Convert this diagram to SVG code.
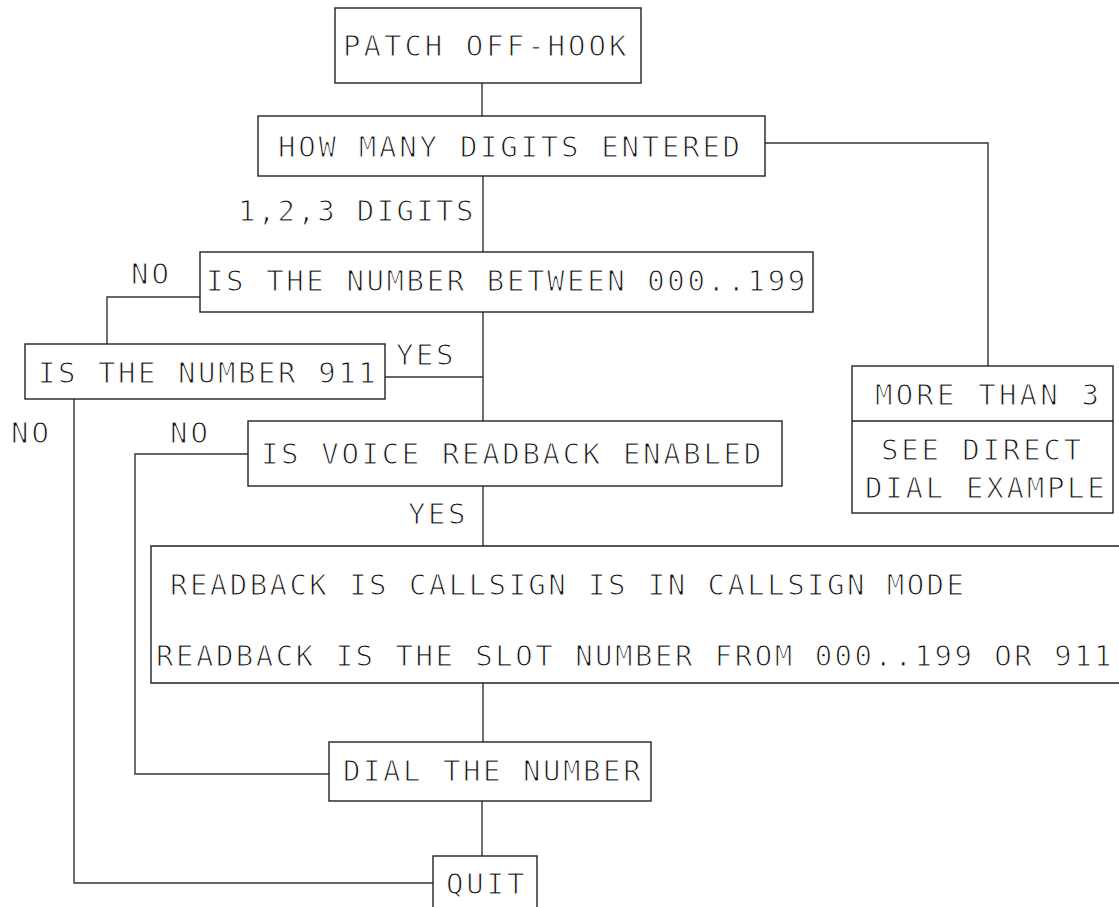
<svg xmlns="http://www.w3.org/2000/svg" width="1119" height="907" viewBox="0 0 1119 907">
<style>
.b{fill:none;stroke:#222;stroke-width:1.4}
.c{fill:none;stroke:#333;stroke-width:1.4}
text{font-family:"DejaVu Sans Mono","Liberation Mono",monospace;font-size:29px;fill:#111;stroke:#fff;stroke-width:1.1px;paint-order:fill stroke}
</style>
<rect width="1119" height="907" fill="#fff"/>
<g id="connectors">
<path class="c" d="M482,83V116"/>
<path class="c" d="M483,176V252"/>
<path class="c" d="M765,143H988V366"/>
<path class="c" d="M200,297H107V344"/>
<path class="c" d="M483,312V421"/>
<path class="c" d="M385,377H483"/>
<path class="c" d="M483,486V546"/>
<path class="c" d="M248,454H135V774H329"/>
<path class="c" d="M483,683V742"/>
<path class="c" d="M482,801V856"/>
<path class="c" d="M74,399V883H433"/>
</g>
<g id="labels">
<text x="238" y="221" letter-spacing="2.35">1,2,3 DIGITS</text>
<text x="131" y="284" letter-spacing="3">NO</text>
<text x="396" y="365" letter-spacing="2.6">YES</text>
<text x="170" y="443" letter-spacing="3">NO</text>
<text x="11" y="443" letter-spacing="3">NO</text>
<text x="408" y="524" letter-spacing="2.6">YES</text>
</g>
<g id="patch">
<rect class="b" x="335" y="8" width="306" height="75"/>
<text x="343" y="56" letter-spacing="3">PATCH OFF-HOOK</text>
</g>
<g id="how-many">
<rect class="b" x="258" y="116" width="507" height="60"/>
<text x="278" y="157" letter-spacing="2.75">HOW MANY DIGITS ENTERED</text>
</g>
<g id="between">
<rect class="b" x="200" y="252" width="613" height="60"/>
<text x="206" y="291" letter-spacing="2.6">IS THE NUMBER BETWEEN 000..199</text>
</g>
<g id="is-911">
<rect class="b" x="25" y="344" width="360" height="55"/>
<text x="38" y="383" letter-spacing="2.55">IS THE NUMBER 911</text>
</g>
<g id="voice">
<rect class="b" x="248" y="421" width="534" height="65"/>
<text x="261" y="464" letter-spacing="2.65">IS VOICE READBACK ENABLED</text>
</g>
<g id="more-than-3">
<rect class="b" x="852" y="366" width="261" height="147"/>
<path class="b" d="M852,421H1113"/>
<text x="875" y="405" letter-spacing="3.2">MORE THAN 3</text>
<text x="881" y="460" letter-spacing="2.85">SEE DIRECT</text>
<text x="865" y="498" letter-spacing="2.75">DIAL EXAMPLE</text>
</g>
<g id="readback">
<path class="b" d="M1125,546H151V683H1125"/>
<text x="170" y="595" letter-spacing="2.45">READBACK IS CALLSIGN IS IN CALLSIGN MODE</text>
<text x="156" y="666" letter-spacing="2.5">READBACK IS THE SLOT NUMBER FROM 000..199 OR 911</text>
</g>
<g id="dial">
<rect class="b" x="329" y="742" width="322" height="59"/>
<text x="343" y="781" letter-spacing="2.55">DIAL THE NUMBER</text>
</g>
<g id="quit">
<rect class="b" x="433" y="856" width="104" height="70"/>
<text x="446" y="894" letter-spacing="2.85">QUIT</text>
</g>
</svg>
